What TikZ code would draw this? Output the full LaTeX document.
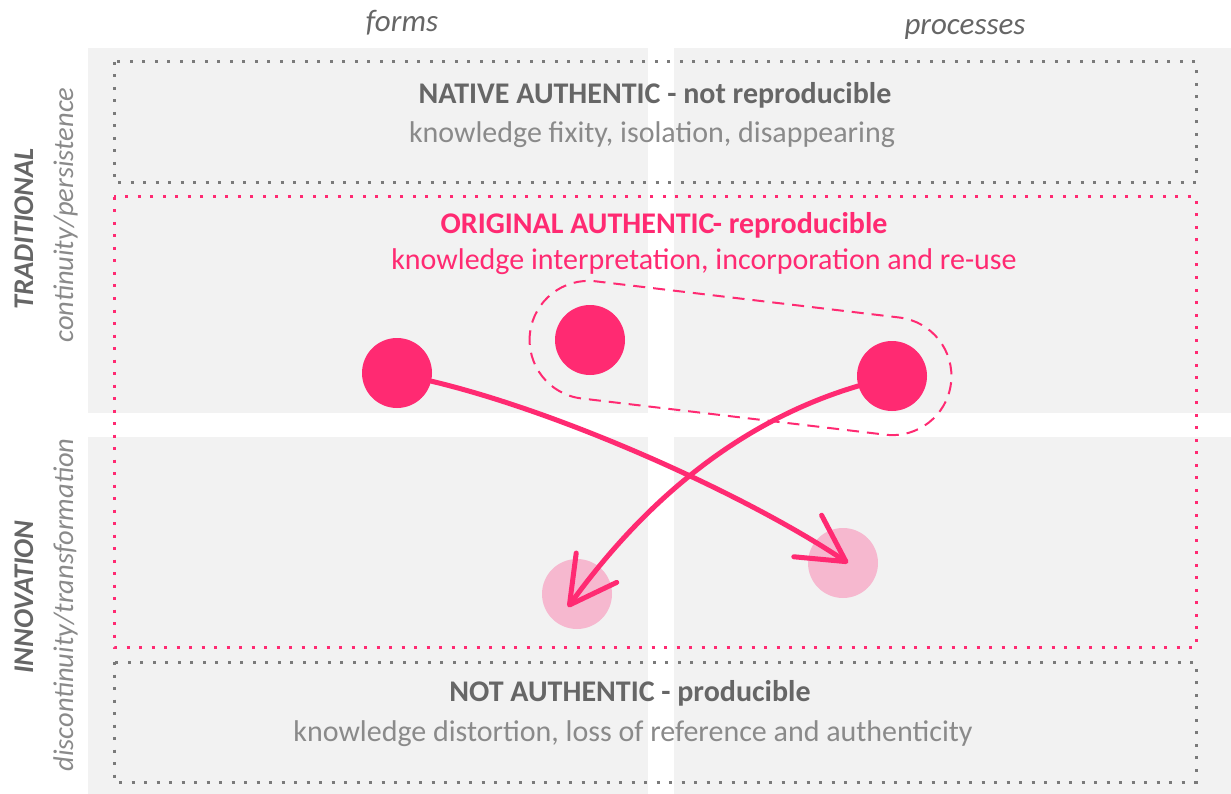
\documentclass[tikz,border=0pt]{standalone}
\usepackage{fontspec}
\setmainfont{Carlito}
\usetikzlibrary{arrows.meta}

\definecolor{hot}{HTML}{FF2A72}
\definecolor{soft}{HTML}{F6B8CF}
\definecolor{panel}{HTML}{F2F2F2}
\definecolor{ink}{HTML}{666666}
\definecolor{inklight}{HTML}{8A8A8A}
\definecolor{dotgray}{HTML}{7A7A7A}

\pgfdeclarelayer{back}
\pgfdeclarelayer{links}
\pgfsetlayers{back,links,main}

\tikzset{
  graydots/.style={draw=dotgray, line width=3pt, dash pattern=on 3pt off 9.5pt},
  pinkdots/.style={draw=hot, line width=3pt, dash pattern=on 3pt off 9.5pt},
  title/.style={anchor=base, font=\fontsize{30}{36}\selectfont\bfseries, inner sep=0pt},
  subtitle/.style={anchor=base, font=\fontsize{30}{36}\selectfont, inner sep=0pt},
  axislabel/.style={anchor=base, font=\fontsize{31}{37}\selectfont\itshape, text=ink, inner sep=0pt},
  sidehead/.style={anchor=base, rotate=90, font=\fontsize{28.5}{34}\selectfont\bfseries\itshape, text=ink, inner sep=0pt},
  sidesub/.style={anchor=base, rotate=90, font=\fontsize{28.5}{34}\selectfont\itshape, text=inklight, inner sep=0pt},
  bigdot/.style={circle, fill=hot, minimum size=70pt, inner sep=0pt},
  ghost/.style={circle, fill=soft, minimum size=70pt, inner sep=0pt},
  flow/.style={draw=hot, line width=5pt, line cap=round,
    -{Straight Barb[length=46pt, width=50pt, round]}},
}

\begin{document}
\begin{tikzpicture}[x=1pt, y=-1pt]
\useasboundingbox (0,0) rectangle (1231,794);

\begin{pgfonlayer}{back}
\fill[white] (0,0) rectangle (1231,794);
% four grey quadrants
\fill[panel] (88,48) rectangle (648,413);
\fill[panel] (674,48) rectangle (1231,413);
\fill[panel] (88,437) rectangle (648,794);
\fill[panel] (674,437) rectangle (1231,794);
% dotted bands
\draw[graydots] (114,62) rectangle (1196,183);
\draw[pinkdots] (114,197) rectangle (1196,647);
\draw[graydots] (114,662) rectangle (1196,782);
\end{pgfonlayer}

% column headings
\node[axislabel] (forms) at (402,32) {forms};
\node[axislabel] (procs) at (965,35) {processes};

% row headings
\node[sidehead] (trad) at (33,229) {TRADITIONAL};
\node[sidesub] (cont) at (73,215) {continuity/persistence};
\node[sidehead] (innov) at (33,597) {INNOVATION};
\node[sidesub] (disc) at (73,605) {discontinuity/transformation};

% band texts
\node[title, text=ink] (native) at (655,104) {NATIVE AUTHENTIC - not reproducible};
\node[subtitle, text=inklight] (nativesub) at (652,143) {knowledge fixity, isolation, disappearing};
\node[title, text=hot] (orig) at (664,234) {ORIGINAL AUTHENTIC- reproducible};
\node[subtitle, text=hot] (origsub) at (704,270) {knowledge interpretation, incorporation and re-use};
\node[title, text=ink] (nota) at (630,701) {NOT AUTHENTIC - producible};
\node[subtitle, text=inklight] (notasub) at (633,741) {knowledge distortion, loss of reference and authenticity};

% faded target circles
\begin{pgfonlayer}{back}
\node[ghost] (g1) at (577,594) {};
\node[ghost] (g2) at (843,563) {};
\end{pgfonlayer}
\coordinate (t1) at (848,563);
\coordinate (t2) at (568,607);

% solid dots
\node[bigdot] (d1) at (397,373) {};
\node[bigdot] (d2) at (590,340) {};
\node[bigdot] (d3) at (892,376) {};

\begin{pgfonlayer}{links}
% dashed grouping around the two upper dots
\begin{scope}[shift={(740.5,358)}, rotate=-6.8]
  \draw[hot, line width=2pt, dash pattern=on 12pt off 8pt, rounded corners=59pt]
    (-212,-59) rectangle (212,59);
\end{scope}
% crossing arrows
\draw[flow] (d1) .. controls (565,413) and (748,496) .. (t1);
\draw[flow] (d3) .. controls (760,415) and (660,480) .. (t2);
\end{pgfonlayer}
\end{tikzpicture}
\end{document}
